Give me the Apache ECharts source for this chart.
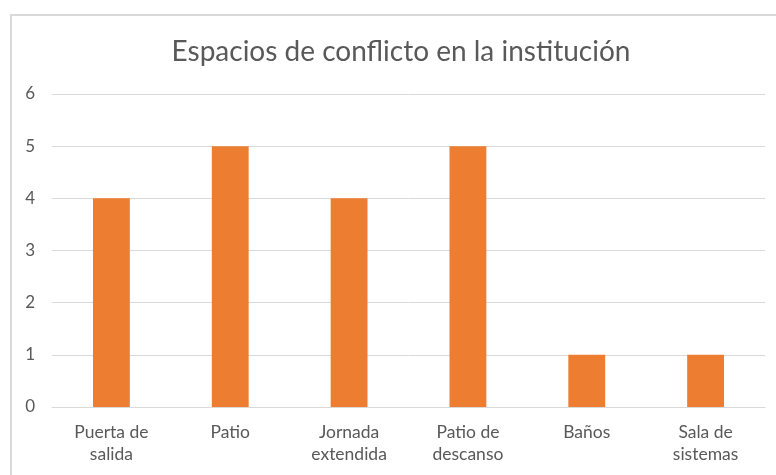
<!DOCTYPE html>
<html>
<head>
<meta charset="utf-8">
<script src="https://cdn.jsdelivr.net/npm/echarts@6/dist/echarts.min.js"></script>
<style>
  html, body { margin: 0; padding: 0; background: #fff; }
  #chart { width: 776px; height: 475px; }
</style>
</head>
<body>
<div id="chart"></div>
<script>
// categorias y valores
var categories = ["Puerta de\nsalida", "Patio", "Jornada\nextendida", "Patio de\ndescanso", "Baños", "Sala de\nsistemas"];
var values = [4, 5, 4, 5, 1, 1];
var yTicks = { min: 0, max: 6, interval: 1 };

var font = "Lato, 'Open Sans', sans-serif";
var myChart = echarts.init(document.getElementById("chart"));
myChart.setOption({
  animation: false,
  textStyle: { fontFamily: font },
  graphic: [
    {
      type: "rect",
      shape: { x: 11, y: 15, width: 778, height: 480 },
      style: { fill: "none", stroke: "#d9d9d9", lineWidth: 2 },
      silent: true,
    },
  ],
  title: {
    text: "Espacios de conflicto en la institución",
    left: 396,
    top: 33,
    textAlign: "center",
    textStyle: {
      fontFamily: font,
      fontSize: 28,
      fontWeight: "normal",
      color: "#595959",
    },
  },
  grid: {
    left: 52,
    right: 11,
    top: 94,
    bottom: 68,
    containLabel: false,
  },
  xAxis: {
    type: "category",
    data: categories,
    axisLine: { show: true, lineStyle: { color: "#d9d9d9" } },
    axisTick: { show: false },
    axisLabel: {
      color: "#595959",
      fontSize: 17.5,
      lineHeight: 22,
      margin: 14,
      interval: 0,
      fontFamily: font,
    },
  },
  yAxis: {
    type: "value",
    min: yTicks.min,
    max: yTicks.max,
    interval: yTicks.interval,
    axisLine: { show: false },
    axisTick: { show: false },
    axisLabel: { color: "#595959", fontSize: 17, margin: 17, fontFamily: font },
    splitLine: { show: true, lineStyle: { color: "#d9d9d9", width: 1 } },
  },
  series: [
    {
      type: "bar",
      data: values,
      barWidth: "31%",
      itemStyle: { color: "#ed7d31" },
    },
  ],
});
</script>
</body>
</html>
